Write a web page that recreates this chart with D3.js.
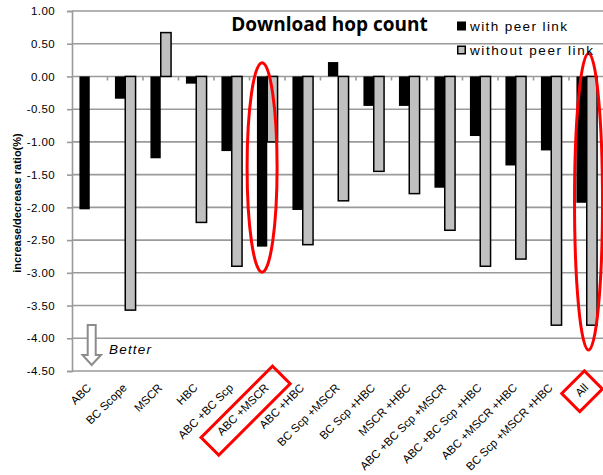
<!DOCTYPE html>
<html>
<head>
<meta charset="utf-8">
<script src="https://cdn.jsdelivr.net/npm/d3@7"></script>
<style>
  html, body { margin: 0; padding: 0; background: #fff; }
  svg { display: block; }
</style>
</head>
<body>
<svg id="chart" width="603" height="475"></svg>
<script>
// Download hop count: change ratio per mechanism combination
const categories = [
  "ABC", "BC Scope", "MSCR", "HBC", "ABC +BC Scp", "ABC +MSCR", "ABC +HBC",
  "BC Scp +MSCR", "BC Scp +HBC", "MSCR +HBC", "ABC +BC Scp +MSCR",
  "ABC +BC Scp +HBC", "ABC +MSCR +HBC", "BC Scp +MSCR +HBC", "All"
];
const seriesNames = ["with peer link", "without peer link"];
const withPeerLink = [-2.03, -0.34, -1.25, -0.11, -1.14, -2.60, -2.04, 0.22, -0.45, -0.45, -1.70, -0.91, -1.36, -1.13, -1.93];
const withoutPeerLink = [null, -3.57, 0.67, -2.23, -2.90, -1.00, -2.57, -1.90, -1.45, -1.79, -2.35, -2.90, -2.79, -3.80, -3.80];
const yTicks = [1.0, 0.5, 0.0, -0.5, -1.0, -1.5, -2.0, -2.5, -3.0, -3.5, -4.0, -4.5];
const yTickLabels = ["1.00", "0.50", "0.00", "-0.50", "-1.00", "-1.50", "-2.00", "-2.50", "-3.00", "-3.50", "-4.00", "-4.50"];
const highlighted = ["ABC +MSCR", "All"];

const svg = d3.select("#chart");
const plotLeft = 72, plotRight = 604.5, plotTop = 11, plotBottom = 371;

const x = d3.scaleBand().domain(categories).range([plotLeft, plotRight]).paddingInner(0).paddingOuter(0);
const x1 = d3.scaleBand().domain(seriesNames).range([0, x.bandwidth()]).paddingInner(0).paddingOuter(0.72);
const y = d3.scaleLinear().domain([-4.5, 1.0]).range([plotBottom, plotTop]);
const colors = d3.scaleOrdinal().domain(seriesNames).range(["#000000", "#c0c0c0"]);

const gridColor = "#9a9a9a";

// horizontal gridlines
svg.append("g").selectAll("line").data(yTicks).join("line")
  .attr("x1", plotLeft).attr("x2", plotRight)
  .attr("y1", d => y(d)).attr("y2", d => y(d))
  .attr("stroke", gridColor).attr("stroke-width", 1.6);

// y axis
const yAxis = d3.axisLeft(y).tickValues(yTicks).tickSize(5).tickPadding(12)
  .tickFormat((d, i) => yTickLabels[i]);
const gy = svg.append("g").attr("transform", `translate(${plotLeft},0)`).call(yAxis);
gy.select(".domain").attr("stroke", gridColor).attr("stroke-width", 1.6);
gy.selectAll(".tick line").attr("stroke", gridColor).attr("stroke-width", 1.6);
gy.selectAll(".tick text")
  .attr("font-family", "Liberation Sans, Arial, sans-serif")
  .attr("font-size", 11.5).attr("letter-spacing", 0.4).attr("fill", "#000");

// category axis along zero, tick marks at band boundaries
const y0 = y(0);
svg.append("g").selectAll("line").data(categories).join("line")
  .attr("x1", d => x(d) + x.bandwidth()).attr("x2", d => x(d) + x.bandwidth())
  .attr("y1", y0).attr("y2", y0 + 4)
  .attr("stroke", gridColor).attr("stroke-width", 1.6);

// bars
const rows = categories.map((c, i) => ({
  cat: c,
  values: [
    { s: seriesNames[0], v: withPeerLink[i] },
    { s: seriesNames[1], v: withoutPeerLink[i] }
  ].filter(d => d.v !== null)
}));

const groups = svg.append("g").selectAll("g").data(rows).join("g")
  .attr("transform", d => `translate(${x(d.cat)},0)`);
groups.selectAll("rect").data(d => d.values).join("rect")
  .attr("x", d => x1(d.s))
  .attr("width", x1.bandwidth())
  .attr("y", d => Math.min(y(d.v), y0))
  .attr("height", d => Math.abs(y(d.v) - y0))
  .attr("fill", d => colors(d.s))
  .attr("stroke", d => d.s === seriesNames[1] ? "#000" : "none")
  .attr("stroke-width", 1.5);

// category labels, rotated
const labels = svg.append("g").selectAll("g").data(categories).join("g")
  .attr("transform", d => `translate(${x(d) + x.bandwidth() / 2 + 2.2},${plotBottom + 17.5}) rotate(-45)`);
labels.append("text")
  .attr("text-anchor", "end")
  .attr("font-family", "Liberation Sans, Arial, sans-serif")
  .attr("font-size", 11.5)
  .attr("fill", "#000")
  .text(d => d);

// boxes around highlighted category labels (in label frame)
const boxSpec = { "ABC +MSCR": { x: -83, y: -13.7, w: 101, h: 25 }, "All": { x: -22.8, y: -15.7, w: 32, h: 25.5 } };
labels.filter(d => highlighted.includes(d)).append("rect")
  .attr("x", d => boxSpec[d].x).attr("y", d => boxSpec[d].y)
  .attr("width", d => boxSpec[d].w).attr("height", d => boxSpec[d].h)
  .attr("fill", "none").attr("stroke", "#ff0000").attr("stroke-width", 3);

// ellipses around highlighted bars
const ellipses = [
  { cat: "ABC +MSCR", cx: x("ABC +MSCR") + x1(seriesNames[0]) + x1.bandwidth() / 2, rx: 15, top: 0.21, bot: -2.99 },
  { cat: "All", cx: x("All") + x.bandwidth() * 0.55, rx: 14, top: 0.35, bot: -4.18 }
];
svg.append("g").selectAll("ellipse").data(ellipses).join("ellipse")
  .attr("cx", d => d.cx)
  .attr("cy", d => (y(d.top) + y(d.bot)) / 2)
  .attr("rx", d => d.rx)
  .attr("ry", d => (y(d.bot) - y(d.top)) / 2)
  .attr("fill", "none").attr("stroke", "#ff0000").attr("stroke-width", 3);

// title
svg.append("text")
  .attr("x", 329.5).attr("y", 30.5)
  .attr("text-anchor", "middle")
  .attr("font-family", "Open Sans, Liberation Sans, sans-serif")
  .attr("font-weight", "bold").attr("font-size", 19)
  .attr("fill", "#000")
  .text("Download hop count");

// legend
const legend = svg.append("g").selectAll("g").data(seriesNames).join("g")
  .attr("transform", (d, i) => `translate(457,${21.5 + i * 24})`);
legend.append("rect")
  .attr("x", d => d === seriesNames[1] ? 0.75 : 0)
  .attr("y", d => d === seriesNames[1] ? 0.75 : 0)
  .attr("width", d => d === seriesNames[1] ? 7.5 : 9)
  .attr("height", d => d === seriesNames[1] ? 7.5 : 9)
  .attr("fill", d => colors(d))
  .attr("stroke", d => d === seriesNames[1] ? "#000" : "none")
  .attr("stroke-width", 1.5);
legend.append("text")
  .attr("x", 13).attr("y", 9)
  .attr("font-family", "Liberation Sans, Arial, sans-serif")
  .attr("font-size", 13.5)
  .attr("textLength", d => d === seriesNames[0] ? 97 : 123)
  .attr("lengthAdjust", "spacing")
  .attr("fill", "#000")
  .text(d => d);

// y axis title
svg.append("text")
  .attr("transform", "translate(21,203) rotate(-90)")
  .attr("text-anchor", "middle")
  .attr("font-family", "Liberation Sans, Arial, sans-serif")
  .attr("font-weight", "bold").attr("font-size", 11)
  .attr("fill", "#000")
  .text("increase/decrease ratio(%)");

// "Better" direction hint
const arrow = svg.append("g");
arrow.append("path")
  .attr("d", "M87.7,325 L95.7,325 L95.7,355 L101,355 L91.7,365 L82.5,355 L87.7,355 Z")
  .attr("fill", "#fff").attr("stroke", "#8c8c8c").attr("stroke-width", 2).attr("stroke-linejoin", "miter");
arrow.append("text")
  .attr("x", 109).attr("y", 354)
  .attr("font-family", "Liberation Sans, Arial, sans-serif")
  .attr("font-style", "italic").attr("font-size", 13.5)
  .attr("textLength", 42).attr("lengthAdjust", "spacing")
  .attr("fill", "#000")
  .text("Better");
</script>
</body>
</html>
